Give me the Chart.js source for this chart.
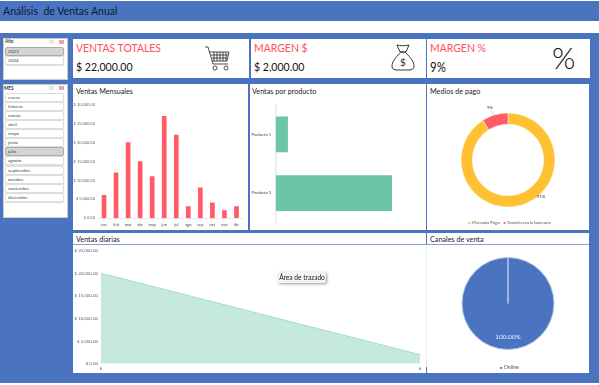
<!DOCTYPE html>
<html><head><meta charset="utf-8">
<script src="https://cdn.jsdelivr.net/npm/chart.js@4"></script>
<style>
html,body{margin:0;padding:0;background:#fff;overflow:hidden}
#page{width:599px;height:385px;position:relative;font-family:Lato,sans-serif;color:#222;filter:blur(.3px);background:#fff;overflow:hidden}
.abs,canvas.c{position:absolute}
.p{position:absolute;background:#fff}
.t{position:absolute;font-size:8.2px;line-height:10px;color:#222;white-space:nowrap;transform:scaleX(.88);transform-origin:left center}
.kt{position:absolute;font-size:12px;line-height:14px;color:#ff4f5c;white-space:nowrap;transform:scaleX(.87);transform-origin:left center}
.kv{position:absolute;font-size:12px;line-height:14px;color:#111;white-space:nowrap;transform:scaleX(.88);transform-origin:left center}
.sl{position:absolute;left:5px;width:57px;height:7px;border:1px solid #ddd;border-radius:2px;background:#fff;font-size:4.6px;line-height:7px;color:#444;text-indent:2px;box-shadow:0 1px 1px #ddd}
.sl.on{background:#d4d4d4;border-color:#aaa}
.sh{position:absolute;font-size:4.6px;line-height:7px;font-weight:700;color:#333}
.ic{position:absolute;width:5px;height:4px}
.flat{transform:none}
</style></head><body><div id="page">
<div class="abs" style="left:0;top:1px;width:599px;height:20px;background:#4a74c0"></div>
<div class="t" style="left:3px;top:4px;font-size:12px;line-height:14px;color:#0a1a30">Análisis&nbsp; de Ventas Anual</div>
<div class="abs" style="left:0;top:33px;width:599px;height:350px;background:#4a74c0"></div>

<div class="p" style="left:3px;top:38px;width:63px;height:40px;border:1px solid #ccc"></div>
<div class="sh" style="top:38px;left:5px">Año</div>
<div class="ic" style="left:49px;top:40px;background:#dcefe0"></div><div class="ic" style="left:59px;top:40px;background:#e8a5ab"></div>
<div class="p" style="left:3px;top:84px;width:63px;height:132px;border:1px solid #ccc"></div>
<div class="sh" style="top:85px;left:4px">MES</div>
<div class="ic" style="left:49px;top:86px;background:#dcefe0"></div><div class="ic" style="left:59px;top:86px;background:#e8a5ab"></div>
<div id="sl"></div>

<div class="p" style="left:73px;top:39px;width:176px;height:39px"></div>
<div class="p" style="left:251px;top:39px;width:175px;height:39px"></div>
<div class="p" style="left:427px;top:39px;width:163px;height:39px"></div>
<div class="kt" style="left:76px;top:41px">VENTAS TOTALES</div>
<div class="kv" style="left:76px;top:60px">$ 22,000.00</div>
<div class="kt" style="left:254px;top:41px">MARGEN $</div>
<div class="kv" style="left:254px;top:60px">$ 2,000.00</div>
<div class="kt" style="left:430px;top:41px">MARGEN %</div>
<div class="kv" style="left:430px;top:60px;font-size:13px">9%</div>
<div class="t flat" style="left:552px;top:40px;font-size:30px;line-height:34px;color:#111;font-weight:300">%</div>

<svg class="abs" style="left:204px;top:46px" width="29" height="27" viewBox="0 0 29 27" fill="none" stroke="#222" stroke-width=".8">
<path d="M1 1h3l5 17h15"/><path d="M5 6h20l-2 9H8M7 9h17M8 12h15M10 6v9M13 6v9M16 6v9M19 6v9M22 6v9"/><circle cx="11" cy="22" r="2"/><circle cx="22" cy="22" r="2"/></svg>
<svg class="abs" style="left:390px;top:43px" width="26" height="30" viewBox="0 0 26 30" fill="none" stroke="#222" stroke-width=".9">
<path d="M7 2c3 1 8 1 12 0l-3 7h-6zM10 9h6M10 10C5 15 2 19 2 23c0 3 2 4 5 4h12c3 0 5-1 5-4 0-4-3-8-8-13"/>
<text x="13" y="23" font-size="10" text-anchor="middle" fill="#222" stroke="none" font-family="Lato">$</text></svg>

<div class="p" style="left:73px;top:84px;width:175px;height:146px"></div>
<div class="p" style="left:250px;top:84px;width:176px;height:146px"></div>
<div class="p" style="left:427px;top:84px;width:162px;height:146px"></div>
<div class="p" style="left:73px;top:233px;width:353px;height:11px"></div>
<div class="p" style="left:427px;top:233px;width:162px;height:11px"></div>
<div class="abs" style="left:73px;top:244px;width:516px;height:1px;background:#86a2d8"></div>
<div class="p" style="left:73px;top:245px;width:516px;height:128px"></div>
<div class="abs" style="left:426px;top:245px;width:1px;height:122px;background:#ececec"></div>
<div class="abs" style="left:426px;top:367px;width:1px;height:6px;background:#4a74c0"></div>

<div class="t" style="left:76px;top:85.5px">Ventas Mensuales</div>
<div class="t" style="left:252px;top:85.5px">Ventas por producto</div>
<div class="t" style="left:430px;top:85.5px">Medios de pago</div>
<div class="t" style="left:76px;top:234px">Ventas diarias</div>
<div class="t" style="left:430px;top:234px">Canales de venta</div>

<canvas class="c" id="cBar" style="left:73px;top:95px" width="175" height="135"></canvas>
<canvas class="c" id="cProd" style="left:250px;top:95px" width="176" height="135"></canvas>
<canvas class="c" id="cDon" style="left:427px;top:95px" width="162" height="135"></canvas>
<canvas class="c" id="cArea" style="left:73px;top:245px" width="353" height="128"></canvas>
<canvas class="c" id="cPie" style="left:427px;top:245px" width="162" height="128"></canvas>

<div class="t flat" style="left:278px;top:272px;width:48px;height:11px;background:#f3f3f3;border-radius:2px;box-shadow:1px 1px 3px #999;font-size:6.6px;line-height:11px;text-align:center">Área de trazado</div>
<div class="t flat" style="left:468px;top:218px;font-size:4.5px;color:#555"><span style="color:#ffc032;font-size:4px">■</span> Mercado Pago &nbsp;&nbsp;<span style="color:#ff5a66;font-size:4px">■</span> Transferencia bancaria</div>
<div class="t flat" style="left:500px;top:362px;font-size:5.2px;color:#555"><span style="color:#4a74c0;font-size:4px">■</span> Online</div>
</div>
<script>
const months=["ene","feb","mar","abr","may","jun","jul","ago","sep","oct","nov","dic"];
const monthlySales=[6000,12000,20000,15000,11000,27000,22000,3000,8000,4000,2000,3000];
const products=["Producto 1","Producto 3"];
const productSales=[2000,20000];
const payMethods=["Mercado Pago","Transferencia bancaria"];
const payShares=[91,9];
const dailyLabels=["6","6"];
const dailySales=[20000,2000];
const channels=["Online"];
const channelShares=[100];
const sliceYears=["2023","2024"];
const sliceMonths=["enero","febrero","marzo","abril","mayo","junio","julio","agosto","septiembre","octubre","noviembre","diciembre"];

const money=v=>"$ "+Number(v).toLocaleString("en-US",{minimumFractionDigits:2,maximumFractionDigits:2});
const tiny={size:4,family:"Lato"};
const tiny2={size:4.4,family:"Lato"};
const noGrid={display:false,drawTicks:false};
const base={responsive:false,animation:false,plugins:{legend:{display:false},tooltip:{enabled:false}}};

const host=document.getElementById("sl");
function addSl(list,top,step,active){list.forEach((s,i)=>{const d=document.createElement("div");d.className="sl"+(s===active?" on":"");d.textContent=s;d.style.top=(top+i*step)+"px";host.appendChild(d);});}
addSl(sliceYears,47,9,"2023");
addSl(sliceMonths,93,9.07,"julio");

const sliceLabels={id:"sliceLabels",afterDatasetsDraw(ch,a,o){if(!o.items)return;const ctx=ch.ctx,meta=ch.getDatasetMeta(0);ctx.save();ctx.textAlign="center";ctx.textBaseline="middle";o.items.forEach(it=>{const e=meta.data[it.i];const rr=e.outerRadius*it.r;ctx.font=it.font;ctx.fillStyle=it.color;ctx.fillText(it.text,e.x+Math.cos(it.angle)*rr,e.y+Math.sin(it.angle)*rr);if(it.lead){ctx.strokeStyle="#aaa";ctx.lineWidth=.5;ctx.beginPath();ctx.moveTo(e.x+Math.cos(it.angle)*rr*.95,e.y+Math.sin(it.angle)*rr*.95);ctx.lineTo(e.x+Math.cos(it.angle+.05)*e.outerRadius*.93,e.y+Math.sin(it.angle+.05)*e.outerRadius*.93);ctx.stroke();}});ctx.restore();}};

new Chart("cBar",{type:"bar",data:{labels:months,datasets:[{data:monthlySales,backgroundColor:"#ff5a66",barThickness:4}]},
options:{...base,layout:{padding:{left:0,right:5.5,top:10,bottom:0}},
scales:{x:{afterFit(s){s.height=12;},grid:noGrid,border:{color:"#e8e8e8"},ticks:{font:tiny,padding:4,maxRotation:0,autoSkip:false,color:"#444"}},
y:{min:0,max:30000,afterFit(s){s.width=25;},grid:noGrid,border:{display:false},ticks:{stepSize:5000,font:tiny,padding:3,color:"#666",callback:money}}}}});

new Chart("cProd",{type:"bar",data:{labels:products,datasets:[{data:productSales,backgroundColor:"#6cc5a8",barThickness:35}]},
options:{...base,indexAxis:"y",layout:{padding:{top:10,bottom:3,right:34}},
scales:{y:{afterFit(s){s.width=26;},grid:noGrid,border:{color:"#e8e8e8",width:1.5},ticks:{font:tiny,padding:5,color:"#444"}},
x:{display:false,min:0,max:20000}}}});

new Chart("cDon",{type:"doughnut",plugins:[sliceLabels],data:{labels:payMethods,datasets:[{data:payShares,backgroundColor:["#ffc032","#ff5a66"],borderColor:"#fff",borderWidth:.5}]},
options:{...base,cutout:"76%",radius:47,layout:{padding:{bottom:5}},
plugins:{...base.plugins,sliceLabels:{items:[{i:1,text:"9%",r:1.17,font:"4.4px Lato",color:"#444",angle:-1.904,lead:true},{i:0,text:"91%",r:1.055,font:"4.4px Lato",color:"#444",angle:.843}]}}}});

new Chart("cArea",{type:"line",data:{labels:dailyLabels,datasets:[{data:dailySales,fill:"origin",backgroundColor:"#c6e9df",borderColor:"#a5dcc9",borderWidth:1,pointRadius:0,tension:0}]},
options:{...base,layout:{padding:{top:5,right:6,bottom:0}},
scales:{x:{afterFit(s){s.height=9.3;},grid:noGrid,border:{display:false},ticks:{font:tiny,padding:3,maxRotation:0,autoSkip:false,color:"#444"}},
y:{min:0,max:25000,afterFit(s){s.width=28;},grid:noGrid,border:{display:false},ticks:{stepSize:5000,font:tiny2,padding:3,color:"#666",callback:money}}}}});

new Chart("cPie",{type:"pie",plugins:[sliceLabels],data:{labels:channels,datasets:[{data:channelShares,backgroundColor:"#4a74c0",borderColor:"#b9c9e6",borderWidth:1}]},
options:{...base,radius:46,layout:{padding:{bottom:11}},
plugins:{...base.plugins,sliceLabels:{items:[{i:0,text:"100.00%",r:.73,font:"6.5px Lato",color:"#e8eef8",angle:Math.PI/2}]}}}});
</script>
</body></html>
